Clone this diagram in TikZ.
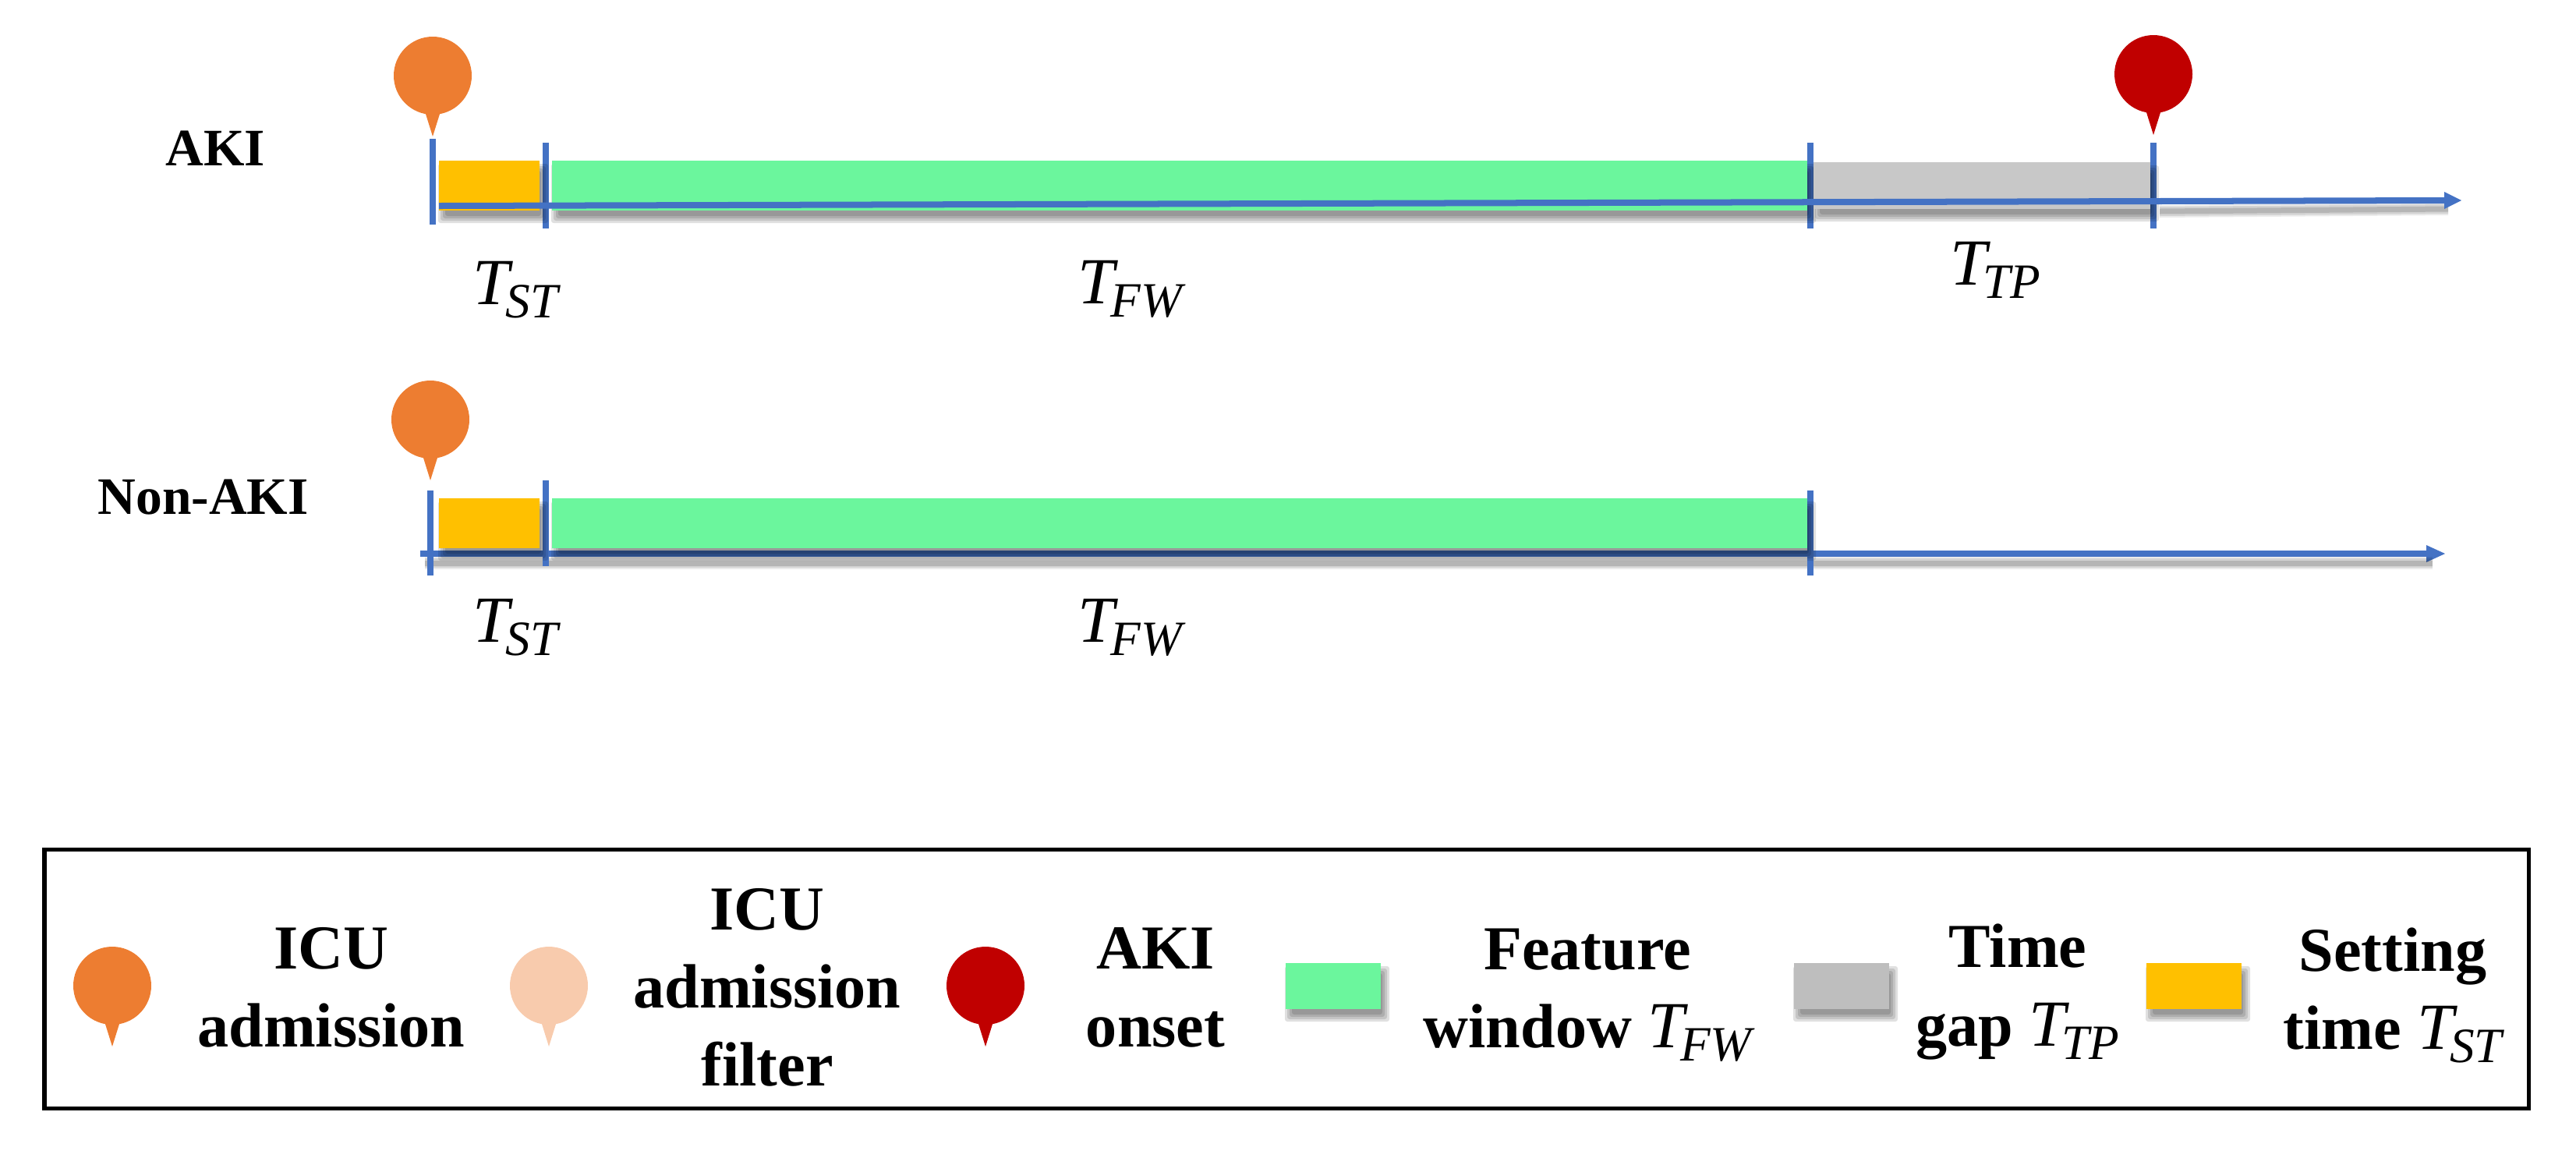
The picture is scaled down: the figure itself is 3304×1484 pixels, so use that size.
\documentclass[tikz,border=0pt]{standalone}
\usepackage{fontspec}
\setmainfont{Liberation Serif}
\definecolor{pinorange}{HTML}{ED7D31}
\definecolor{pinpale}{HTML}{F8CBAD}
\definecolor{pinred}{HTML}{C00000}
\definecolor{barblue}{HTML}{4472C4}
\definecolor{bargreen}{HTML}{6BF69D}
\definecolor{bargray}{HTML}{C8C8C8}
\definecolor{bargold}{HTML}{FFC000}
\newcommand{\tvar}[1]{{\normalfont\itshape\fontsize{24}{28.45}\selectfont T\kern-0.05cm\raisebox{-0.17cm}{\fontsize{18}{20}\selectfont #1}}}
% soft shadow under a bar, then the bar
\newcommand{\shadedbar}[5]{
	\foreach \g in {6,3,0,-3} {
		\fill[black, opacity = 0.12, rounded corners = 0.03cm] ({#2+5-\g},{#3+10-\g}) rectangle ({#4+5+\g},{#5+10+\g});
	}
	\fill[#1] (#2,#3) rectangle (#4,#5);
}
\tikzset{
	tick/.style = {draw = barblue, line width = 0.08cm},
	timeline/.style = {draw = barblue, line width = 0.08cm},
	tiplabel/.style = {anchor = base west, inner sep = 0pt},
	rowlabel/.style = {anchor = base west, inner sep = 0pt, font = \fontsize{19.2}{23}\selectfont\bfseries},
	keylabel/.style = {align = center, inner sep = 0pt, font = \fontsize{22.8}{28.45}\selectfont\bfseries},
	pics/marker/.style = {code = {
		\fill[#1] (0,0) circle (50);
		\fill[#1] (-10,46) -- (10,46) -- (0,78) -- cycle;
	}}
}
\begin{document}
\begin{tikzpicture}[x = 0.01cm, y = -0.01cm]
\useasboundingbox (0,0) rectangle (3304,1484);
% AKI row
\foreach \x/\ytop/\ybot in {555/178/288, 700/183/293, 2322/183/293, 2762/183/293} {
	\draw[tick] (\x,\ytop) to (\x,\ybot);
}
\shadedbar{bargold}{563}{206}{692}{270}
\shadedbar{bargreen}{708}{206}{2318}{270}
\shadedbar{bargray}{2326}{208}{2758}{268}
\coordinate (akistart) at (563,264);
\coordinate (akistop) at (3135,257);
\foreach \w/\o in {16/0.08, 12/0.1, 7/0.14} {
	\draw[line width = \w*0.01cm, black, opacity = \o] (2770,271) to (3140,268);
}
\draw[timeline] (akistart) to (akistop);
\fill[barblue] (3135,246) -- (3157,257) -- (3135,268) -- cycle;
\path (555,97) pic {marker = pinorange};
\path (2762,95) pic {marker = pinred};
\node[rowlabel] (akilabel) at (212,212) {AKI};
\node[tiplabel] (akist) at (606,390) {\tvar{ST}};
\node[tiplabel] (akifw) at (1382,389) {\tvar{FW}};
\node[tiplabel] (akitp) at (2501,365) {\tvar{TP}};
% Non-AKI row
\coordinate (nonstart) at (539,710);
\coordinate (nonstop) at (3114,710);
\draw[timeline] (nonstart) to (nonstop);
\fill[barblue] (3112,699) -- (3136,710) -- (3112,721) -- cycle;
\foreach \w/\o in {16/0.08, 12/0.1, 7/0.14} {
	\draw[line width = \w*0.01cm, black, opacity = \o] (545,722) to (3120,722);
}
\foreach \x/\ytop/\ybot in {552/629/738, 700/616/726, 2322/629/738} {
	\draw[tick] (\x,\ytop) to (\x,\ybot);
}
\shadedbar{bargold}{563}{639}{692}{703}
\shadedbar{bargreen}{708}{639}{2318}{703}
\path (552,538) pic {marker = pinorange};
\node[rowlabel] (nonlabel) at (125,659) {Non-AKI};
\node[tiplabel] (nonst) at (606,823) {\tvar{ST}};
\node[tiplabel] (nonfw) at (1382,823) {\tvar{FW}};
% legend
\draw[line width = 0.05cm] (57,1089) rectangle (3243,1421);
\path (144,1264) pic {marker = pinorange};
\path (704,1264) pic {marker = pinpale};
\path (1264,1264) pic {marker = pinred};
\shadedbar{bargreen}{1649}{1235}{1771}{1294}
\shadedbar{bargray!95!black}{2301}{1235}{2423}{1294}
\shadedbar{bargold}{2753}{1235}{2875}{1294}
\node[keylabel] (keyicu) at (425,1266) {ICU\\admission};
\node[keylabel] (keyfilter) at (984,1266) {ICU\\admission\\filter};
\node[keylabel] (keyaki) at (1482,1266) {AKI\\onset};
\node[keylabel] (keyfw) at (2036,1276) {Feature\\window \tvar{FW}};
\node[keylabel] (keytp) at (2588,1272) {Time\\gap \tvar{TP}};
\node[keylabel] (keyst) at (3069,1276) {Setting\\time \tvar{ST}};
\end{tikzpicture}
\end{document}
